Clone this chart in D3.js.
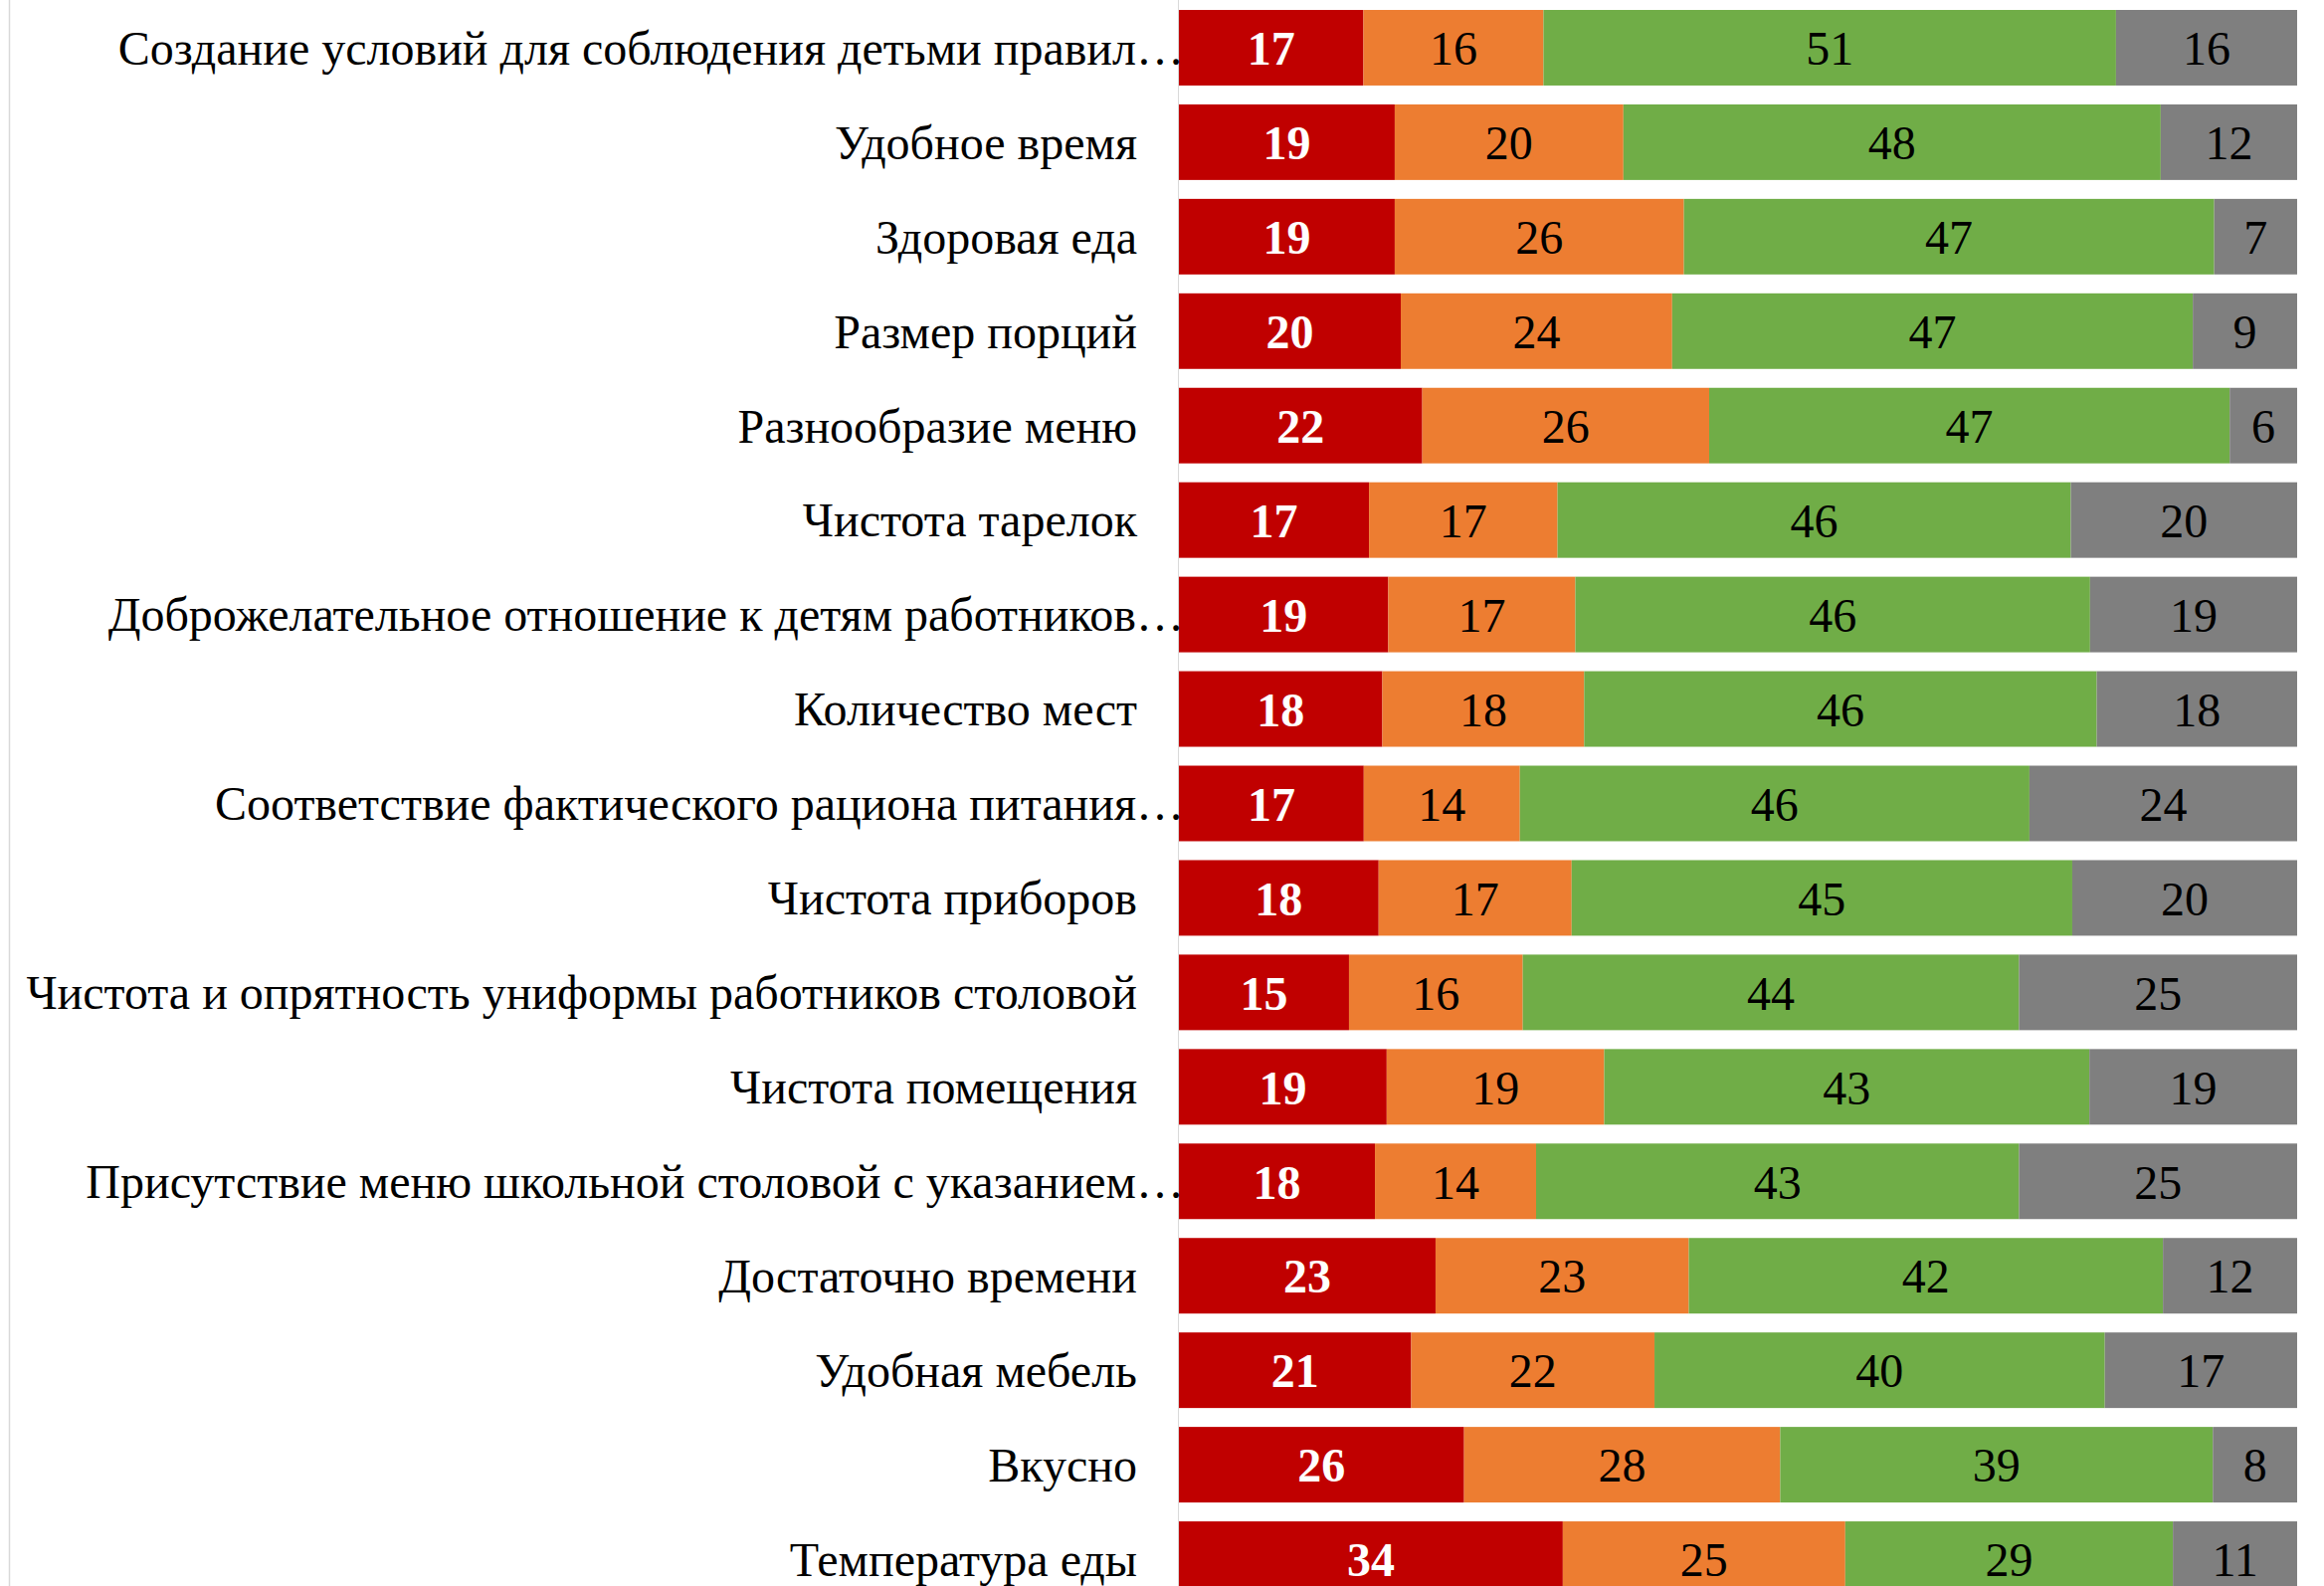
<!DOCTYPE html>
<html>
<head>
<meta charset="utf-8">
<script src="https://cdn.jsdelivr.net/npm/d3@7"></script>
<style>
  html, body { margin: 0; padding: 0; background: #ffffff; }
  svg { display: block; }
</style>
</head>
<body>
<svg id="chart" width="2336" height="1594"></svg>
<script>
const categories = [
  "Создание условий для соблюдения детьми правил…",
  "Удобное время",
  "Здоровая еда",
  "Размер порций",
  "Разнообразие меню",
  "Чистота тарелок",
  "Доброжелательное отношение к детям работников…",
  "Количество мест",
  "Соответствие фактического рациона питания…",
  "Чистота приборов",
  "Чистота и опрятность униформы работников столовой",
  "Чистота помещения",
  "Присутствие меню школьной столовой с указанием…",
  "Достаточно времени",
  "Удобная мебель",
  "Вкусно",
  "Температура еды"
];
const seriesKeys = ["s1", "s2", "s3", "s4"];
const s1Values = [16.5, 19.3, 19.3, 19.84, 21.76, 17.0, 18.72, 18.19, 16.53, 17.86, 15.21, 18.58, 17.53, 22.95, 20.77, 25.5, 34.33];
const s2Values = [16.1, 20.45, 25.86, 24.27, 25.66, 16.86, 16.73, 18.05, 13.96, 17.26, 15.54, 19.45, 14.41, 22.65, 21.76, 28.27, 25.26];
const s3Values = [51.2, 48.05, 47.42, 46.56, 46.55, 45.9, 46.03, 45.84, 45.57, 44.77, 44.38, 43.39, 43.19, 42.4, 40.27, 38.69, 29.3];
const s4Values = [16.2, 12.2, 7.42, 9.33, 6.03, 20.24, 18.52, 17.92, 23.94, 20.11, 24.87, 18.58, 24.87, 12.0, 17.2, 7.54, 11.11];
const xDomain = [0, 100];

const colors = {s1: "#C00000", s2: "#ED7D31", s3: "#70AD47", s4: "#7F7F7F"};
const labelStyle = {
  s1: {fill: "#ffffff", weight: "bold"},
  s2: {fill: "#000000", weight: "normal"},
  s3: {fill: "#000000", weight: "normal"},
  s4: {fill: "#000000", weight: "normal"}
};

const rows = categories.map((c, i) => ({
  cat: c, s1: s1Values[i], s2: s2Values[i], s3: s3Values[i], s4: s4Values[i]
}));

const W = 2336, H = 1594;
const FONT = "'Liberation Serif', 'Times New Roman', serif";
const svg = d3.select("#chart");
svg.append("rect").attr("width", W).attr("height", H).attr("fill", "#ffffff");

const x = d3.scaleLinear().domain(xDomain).range([1185, 2309]);
const y = d3.scaleBand().domain(categories).range([0.5, 1614.5]).paddingInner(0.2).paddingOuter(0.1);

// outer border line on the left
svg.append("line").attr("x1", 9.5).attr("x2", 9.5).attr("y1", 0).attr("y2", H)
  .attr("stroke", "#d9d9d9").attr("stroke-width", 1.5);

const stack = d3.stack().keys(seriesKeys)(rows);

const g = svg.append("g");
stack.forEach(layer => {
  const key = layer.key;
  const lg = g.append("g");
  lg.selectAll("rect").data(layer).join("rect")
    .attr("x", d => x(d[0]))
    .attr("width", d => x(d[1]) - x(d[0]))
    .attr("y", d => y(d.data.cat))
    .attr("height", y.bandwidth())
    .attr("fill", colors[key]);
  lg.selectAll("text").data(layer).join("text")
    .attr("x", d => (x(d[0]) + x(d[1])) / 2)
    .attr("y", d => y(d.data.cat) + y.bandwidth() / 2)
    .attr("dy", "0.36em")
    .attr("text-anchor", "middle")
    .attr("font-family", FONT)
    .attr("font-size", 48)
    .attr("font-weight", labelStyle[key].weight)
    .attr("fill", labelStyle[key].fill)
    .text(d => Math.round(d[1] - d[0]));
});

// category axis line
svg.append("line").attr("x1", 1184.5).attr("x2", 1184.5).attr("y1", 0).attr("y2", H)
  .attr("stroke", "#d9d9d9").attr("stroke-width", 1);

// category labels
svg.append("g").selectAll("text").data(categories).join("text")
  .attr("x", d => d.endsWith("…") ? 1190 : 1143)
  .attr("y", d => y(d) + y.bandwidth() / 2)
  .attr("dy", "0.35em")
  .attr("text-anchor", "end")
  .attr("font-family", FONT)
  .attr("font-size", 48)
  .attr("fill", "#000000")
  .text(d => d);
</script>
</body>
</html>
